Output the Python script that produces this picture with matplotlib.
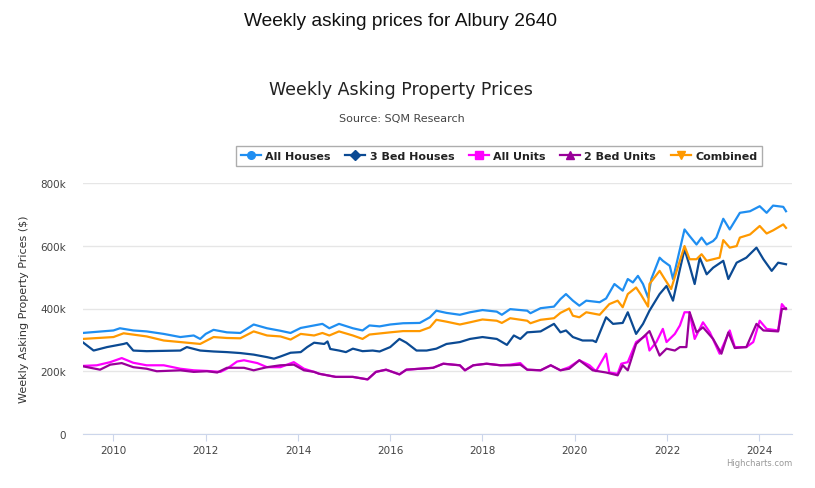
import matplotlib
matplotlib.use("Agg")
import matplotlib.pyplot as plt
from matplotlib.lines import Line2D
from matplotlib.ticker import FuncFormatter

## values (decimal year, price in $k)
houses_year = [2009.33, 2010.0, 2010.14, 2010.43, 2010.72, 2011.09, 2011.45, 2011.74, 2011.88, 2012.0,
               2012.17, 2012.46, 2012.75, 2013.04, 2013.33, 2013.62, 2013.84, 2014.06, 2014.35, 2014.53,
               2014.68, 2014.89, 2015.19, 2015.4, 2015.55, 2015.77, 2016.0, 2016.28, 2016.64, 2016.86,
               2017.0, 2017.22, 2017.51, 2017.73, 2018.0, 2018.31, 2018.42, 2018.6, 2018.97, 2019.04,
               2019.26, 2019.55, 2019.69, 2019.81, 2019.96, 2020.1, 2020.25, 2020.54, 2020.68, 2020.86,
               2021.04, 2021.15, 2021.26, 2021.37, 2021.48, 2021.59, 2021.66, 2021.84, 2021.91, 2022.06,
               2022.13, 2022.28, 2022.38, 2022.49, 2022.64, 2022.75, 2022.86, 2023.0, 2023.07, 2023.22,
               2023.36, 2023.58, 2023.8, 2024.01, 2024.16, 2024.3, 2024.52, 2024.58]
houses_val = [322, 330, 337, 330, 327, 319, 309, 314, 303, 319,
              332, 324, 322, 349, 337, 329, 322, 338, 346, 351,
              337, 351, 337, 330, 346, 343, 349, 353, 354, 372,
              393, 386, 380, 388, 395, 390, 380, 398, 393, 385,
              401, 406, 430, 446, 425, 409, 425, 420, 432, 478,
              457, 494, 483, 504, 478, 435, 494, 562, 552, 536,
              494, 589, 652, 631, 604, 626, 604, 615, 626, 686,
              652, 705, 710, 726, 705, 728, 724, 710]

bed3_year = [2009.33, 2009.57, 2009.86, 2010.22, 2010.29, 2010.43, 2010.72, 2011.09, 2011.45, 2011.59,
             2011.88, 2012.17, 2012.46, 2012.75, 2013.04, 2013.33, 2013.48, 2013.62, 2013.84, 2014.06,
             2014.2, 2014.35, 2014.57, 2014.64, 2014.7, 2014.89, 2015.04, 2015.19, 2015.4, 2015.62,
             2015.77, 2016.0, 2016.2, 2016.35, 2016.57, 2016.79, 2017.0, 2017.22, 2017.51, 2017.73,
             2018.0, 2018.31, 2018.53, 2018.68, 2018.82, 2018.97, 2019.26, 2019.55, 2019.69, 2019.81,
             2019.96, 2020.17, 2020.39, 2020.46, 2020.68, 2020.83, 2021.04, 2021.15, 2021.33, 2021.48,
             2021.62, 2021.84, 2021.99, 2022.13, 2022.28, 2022.38, 2022.49, 2022.6, 2022.71, 2022.86,
             2023.0, 2023.22, 2023.33, 2023.51, 2023.72, 2023.94, 2024.09, 2024.27, 2024.41, 2024.58]
bed3_val = [293, 266, 277, 287, 290, 266, 264, 265, 266, 277,
            266, 263, 261, 258, 253, 245, 240, 247, 259, 261,
            277, 291, 287, 295, 271, 266, 261, 272, 264, 266,
            263, 277, 303, 291, 266, 266, 272, 287, 293, 303,
            309, 303, 284, 314, 303, 324, 327, 351, 324, 330,
            309, 298, 298, 293, 372, 351, 354, 388, 319, 351,
            393, 446, 472, 425, 525, 589, 536, 478, 562, 509,
            530, 552, 494, 546, 562, 594, 557, 520, 546, 541]

units_year = [2009.33, 2009.64, 2009.93, 2010.18, 2010.43, 2010.72, 2011.09, 2011.45, 2011.74, 2012.03,
              2012.32, 2012.46, 2012.68, 2012.83, 2013.12, 2013.33, 2013.62, 2013.91, 2014.13, 2014.35,
              2014.46, 2014.82, 2015.19, 2015.51, 2015.69, 2015.91, 2016.2, 2016.35, 2016.64, 2016.93,
              2017.15, 2017.51, 2017.62, 2017.8, 2018.09, 2018.39, 2018.6, 2018.82, 2018.97, 2019.26,
              2019.48, 2019.69, 2019.88, 2020.1, 2020.32, 2020.46, 2020.68, 2020.75, 2020.93, 2021.01,
              2021.15, 2021.33, 2021.55, 2021.62, 2021.77, 2021.91, 2021.99, 2022.17, 2022.28, 2022.38,
              2022.49, 2022.6, 2022.78, 2022.93, 2023.14, 2023.36, 2023.47, 2023.72, 2023.87, 2024.01,
              2024.16, 2024.41, 2024.49, 2024.58]
units_val = [217, 219, 229, 242, 227, 219, 219, 208, 203, 201,
             198, 208, 231, 235, 226, 213, 213, 229, 208, 198,
             192, 182, 182, 174, 198, 205, 190, 205, 208, 211,
             224, 219, 203, 219, 224, 219, 221, 226, 205, 203,
             219, 203, 213, 235, 219, 200, 256, 196, 192, 224,
             229, 293, 314, 266, 293, 335, 293, 319, 346, 388,
             388, 303, 356, 324, 256, 330, 277, 277, 293, 361,
             335, 330, 414, 398]

bed2_year = [2009.33, 2009.71, 2009.93, 2010.18, 2010.43, 2010.72, 2010.94, 2011.45, 2011.74, 2012.03,
             2012.25, 2012.46, 2012.83, 2013.04, 2013.33, 2013.62, 2013.91, 2014.13, 2014.35, 2014.46,
             2014.82, 2015.19, 2015.51, 2015.69, 2015.91, 2016.2, 2016.35, 2016.64, 2016.93, 2017.15,
             2017.51, 2017.62, 2017.8, 2018.09, 2018.39, 2018.6, 2018.82, 2018.97, 2019.26, 2019.48,
             2019.69, 2019.88, 2020.1, 2020.39, 2020.68, 2020.93, 2021.04, 2021.15, 2021.33, 2021.62,
             2021.84, 2021.99, 2022.17, 2022.28, 2022.42, 2022.49, 2022.64, 2022.78, 2023.0, 2023.18,
             2023.33, 2023.47, 2023.72, 2023.94, 2024.09, 2024.41, 2024.49, 2024.58]
bed2_val = [216, 205, 221, 226, 213, 208, 200, 203, 198, 200,
            196, 211, 211, 203, 213, 219, 221, 203, 198, 192,
            182, 182, 174, 198, 205, 190, 205, 208, 211, 224,
            219, 203, 219, 224, 219, 219, 221, 205, 203, 219,
            203, 208, 235, 203, 196, 187, 219, 203, 287, 328,
            250, 272, 266, 277, 277, 388, 324, 340, 303, 256,
            324, 274, 277, 351, 330, 327, 398, 400]

comb_year = [2009.33, 2010.0, 2010.22, 2010.72, 2011.09, 2011.45, 2011.88, 2012.17, 2012.46, 2012.75,
             2013.04, 2013.33, 2013.62, 2013.84, 2014.06, 2014.35, 2014.53, 2014.68, 2014.89, 2015.19,
             2015.4, 2015.55, 2016.0, 2016.28, 2016.64, 2016.86, 2017.0, 2017.22, 2017.51, 2017.73,
             2018.0, 2018.31, 2018.42, 2018.6, 2018.97, 2019.04, 2019.26, 2019.55, 2019.69, 2019.88,
             2019.96, 2020.1, 2020.25, 2020.54, 2020.75, 2020.93, 2021.04, 2021.15, 2021.33, 2021.44,
             2021.59, 2021.62, 2021.84, 2021.95, 2022.09, 2022.2, 2022.38, 2022.49, 2022.64, 2022.75,
             2022.86, 2023.0, 2023.14, 2023.22, 2023.36, 2023.51, 2023.58, 2023.8, 2024.01, 2024.16,
             2024.3, 2024.52, 2024.58]
comb_val = [303, 309, 321, 311, 298, 293, 287, 309, 306, 305,
            327, 314, 311, 301, 319, 314, 322, 314, 327, 314,
            303, 317, 324, 328, 328, 340, 364, 358, 349, 356,
            365, 361, 354, 369, 361, 353, 364, 369, 386, 400,
            377, 372, 388, 380, 414, 425, 404, 446, 467, 443,
            406, 478, 520, 494, 462, 515, 599, 557, 557, 573,
            552, 557, 562, 618, 594, 599, 626, 636, 663, 639,
            649, 668, 657]

series = [
    ("All Houses", houses_year, houses_val, "#1f8ef1", "o"),
    ("3 Bed Houses", bed3_year, bed3_val, "#0b4a93", "D"),
    ("All Units", units_year, units_val, "#ff00ff", "s"),
    ("2 Bed Units", bed2_year, bed2_val, "#990099", "^"),
    ("Combined", comb_year, comb_val, "#ff9900", "v"),
]

fig = plt.figure(figsize=[8.15, 4.89], dpi=100)
ax = fig.add_axes([83/815, 1-435/489, (792-83)/815, (435-184)/489])

handles = []
for name, xs, ys, col, mk in series:
    ax.plot(xs, [v*1000 for v in ys], color=col, linewidth=1.6)
    handles.append(Line2D([], [], color=col, linewidth=1.6, marker=mk, markersize=5.5, label=name))

ax.set_xlim(2009.34, 2024.71)
ax.set_ylim(0, 800000)
ax.set_yticks([0, 200000, 400000, 600000, 800000])
ax.yaxis.set_major_formatter(FuncFormatter(lambda v, p: "0" if v == 0 else "%dk" % (v/1000)))
ax.set_xticks(range(2010, 2025, 2))
ax.grid(axis="y", color="#e6e6e6", linewidth=1)
ax.set_axisbelow(True)
for s in ["top", "right", "left"]:
    ax.spines[s].set_visible(False)
ax.spines["bottom"].set_color("#ccd6eb")
ax.tick_params(axis="y", length=0, pad=12, labelsize=7.5, labelcolor="#444444")
ax.tick_params(axis="x", length=5, color="#ccd6eb", pad=3, labelsize=7.5, labelcolor="#444444")
ax.set_ylabel("Weekly Asking Property Prices ($)", fontsize=8, color="#333333", labelpad=8)

fig.text(401/815, 1-22/489, "Weekly asking prices for Albury 2640", ha="center", va="center",
         fontsize=13.8, family="Liberation Sans", color="#111111")
fig.text(401/815, 1-90/489, "Weekly Asking Property Prices", ha="center", va="center",
         fontsize=12.5, color="#222222")
fig.text(402/815, 1-119/489, "Source: SQM Research", ha="center", va="center",
         fontsize=8, color="#444444")
fig.text(792/815, 1-464/489, "Highcharts.com", ha="right", va="center", fontsize=6, color="#999999")

leg = fig.legend(handles=handles, loc="center", bbox_to_anchor=(499/815, 1-156.5/489), ncol=5,
                 frameon=True, fancybox=False, fontsize=8, handlelength=1.8, handletextpad=0.4,
                 columnspacing=1.3, borderpad=0.45)
leg.get_frame().set_edgecolor("#999999")
leg.get_frame().set_linewidth(1)
for t in leg.get_texts():
    t.set_fontweight("bold")
    t.set_color("#222222")

fig.savefig("out.png", dpi=100)
